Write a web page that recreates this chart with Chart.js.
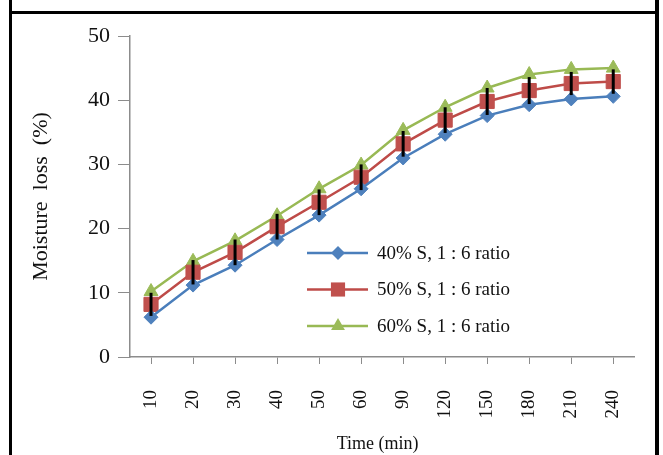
<!DOCTYPE html>
<html>
<head>
<meta charset="utf-8">
<script src="https://cdn.jsdelivr.net/npm/chart.js"></script>
<style>
  html, body { margin: 0; padding: 0; background: #fff; }
  #wrap { position: relative; width: 663px; height: 455px; overflow: hidden; }
  #chart { position: absolute; left: 0; top: 0; }
  .ln { position: absolute; background: #000; }
</style>
</head>
<body>
<div id="wrap">
  <canvas id="chart" width="663" height="455"></canvas>
  <div class="ln" style="left:9px;top:0;width:3px;height:455px"></div>
  <div class="ln" style="left:655px;top:0;width:4px;height:455px"></div>
  <div class="ln" style="left:9px;top:11px;width:650px;height:3px"></div>
</div>
<script>
// data
const times = ['10', '20', '30', '40', '50', '60', '90', '120', '150', '180', '210', '240'];
const s40 = [6.2, 11.2, 14.3, 18.3, 22.1, 26.2, 31.0, 34.7, 37.6, 39.3, 40.2, 40.6];
const s50 = [8.2, 13.2, 16.3, 20.3, 24.1, 28.0, 33.2, 36.9, 39.8, 41.5, 42.6, 42.9];
const s60 = [10.2, 14.9, 18.1, 22.0, 26.2, 29.9, 35.3, 38.9, 41.9, 44.0, 44.8, 45.0];
const err50 = [1.8, 1.9, 2.0, 2.0, 2.0, 2.0, 2.0, 2.0, 2.1, 2.1, 1.8, 1.9];
const seriesNames = ['40% S, 1 : 6 ratio', '50% S, 1 : 6 ratio', '60% S, 1 : 6 ratio'];

const SERIF = '"Liberation Serif", "Times New Roman", serif';
const AXIS = '#8c8c8c';

// error bars (black, no caps) on the 50% series
const errorBars = {
    id: 'errorBars',
    afterDatasetsDraw(chart) {
        const ctx = chart.ctx;
        const xs = chart.scales.x, ys = chart.scales.y;
        ctx.save();
        ctx.strokeStyle = '#000';
        ctx.lineWidth = 3;
        for (let i = 0; i < s50.length; i++) {
            const x = xs.getPixelForValue(i);
            ctx.beginPath();
            ctx.moveTo(x, ys.getPixelForValue(s50[i] + err50[i]));
            ctx.lineTo(x, ys.getPixelForValue(s50[i] - err50[i]));
            ctx.stroke();
        }
        ctx.restore();
    }
};

// legend with line + marker samples, like the office chart
function marker(ctx, style, x, y, r) {
    ctx.beginPath();
    if (style === 'rectRot') {
        ctx.moveTo(x, y - r); ctx.lineTo(x + r, y); ctx.lineTo(x, y + r); ctx.lineTo(x - r, y);
    } else if (style === 'rect') {
        const h = r * Math.SQRT1_2;
        ctx.rect(x - h, y - h, 2 * h, 2 * h);
    } else {
        ctx.moveTo(x, y - r);
        ctx.lineTo(x + r * Math.sin(Math.PI / 3), y + r / 2);
        ctx.lineTo(x - r * Math.sin(Math.PI / 3), y + r / 2);
    }
    ctx.closePath();
    ctx.fill();
}

const sideLegend = {
    id: 'sideLegend',
    afterDraw(chart) {
        const ctx = chart.ctx;
        ctx.save();
        ctx.font = '19px ' + SERIF;
        ctx.textBaseline = 'middle';
        ctx.textAlign = 'left';
        chart.data.datasets.forEach((ds, i) => {
            const y = 253 + i * 36.5;
            ctx.strokeStyle = ds.borderColor;
            ctx.lineWidth = 2.5;
            ctx.beginPath();
            ctx.moveTo(307, y);
            ctx.lineTo(368, y);
            ctx.stroke();
            ctx.fillStyle = ds.pointBackgroundColor;
            marker(ctx, ds.pointStyle, 338, y, ds.pointRadius);
            ctx.fillStyle = '#111';
            ctx.fillText(seriesNames[i], 377, y + 1);
        });
        ctx.restore();
    }
};

function initChart() {
    const ctx = document.getElementById('chart').getContext('2d');
    new Chart(ctx, {
        type: 'line',
        data: {
            labels: times,
            datasets: [{
                label: seriesNames[0],
                data: s40,
                borderColor: '#4A7EBB',
                pointBackgroundColor: '#4F81BD',
                pointBorderColor: '#4F81BD',
                pointStyle: 'rectRot',
                pointRadius: 7
            }, {
                label: seriesNames[1],
                data: s50,
                borderColor: '#BE4B48',
                pointBackgroundColor: '#C0504D',
                pointBorderColor: '#C0504D',
                pointStyle: 'rect',
                pointRadius: 10
            }, {
                label: seriesNames[2],
                data: s60,
                borderColor: '#98B954',
                pointBackgroundColor: '#9BBB59',
                pointBorderColor: '#9BBB59',
                pointStyle: 'triangle',
                pointRadius: 8
            }]
        },
        options: {
            responsive: false,
            animation: false,
            devicePixelRatio: 1,
            layout: { padding: { left: 12, right: 23, top: 36, bottom: 0 } },
            elements: {
                line: { borderWidth: 2.5, tension: 0 },
                point: { borderWidth: 1, hoverRadius: 7 }
            },
            plugins: {
                legend: { display: false },
                tooltip: { enabled: false }
            },
            scales: {
                x: {
                    offset: true,
                    afterFit: s => { s.height = 98; },
                    grid: { drawOnChartArea: false, offset: false, color: AXIS, tickLength: 7 },
                    border: { color: AXIS, width: 1.5 },
                    ticks: {
                        autoSkip: false,
                        minRotation: 90,
                        maxRotation: 90,
                        padding: 26,
                        color: '#111',
                        font: { family: SERIF, size: 19 }
                    },
                    title: {
                        display: true,
                        text: 'Time (min)  ',
                        color: '#111',
                        font: { family: SERIF, size: 18 },
                        padding: { top: 0, bottom: 0 }
                    }
                },
                y: {
                    min: 0,
                    max: 50,
                    afterFit: s => { s.width = 118; },
                    grid: { drawOnChartArea: false, color: AXIS, tickLength: 12 },
                    border: { color: AXIS, width: 1.5 },
                    ticks: {
                        stepSize: 10,
                        padding: 8,
                        color: '#111',
                        font: { family: SERIF, size: 22 }
                    },
                    title: {
                        display: true,
                        text: 'Moisture  loss  (%)',
                        color: '#111',
                        font: { family: SERIF, size: 22 },
                        padding: { top: 16, bottom: 0 }
                    }
                }
            }
        },
        plugins: [errorBars, sideLegend]
    });
}

window.addEventListener('load', () => {
    initChart();
});
</script>
</body>
</html>
